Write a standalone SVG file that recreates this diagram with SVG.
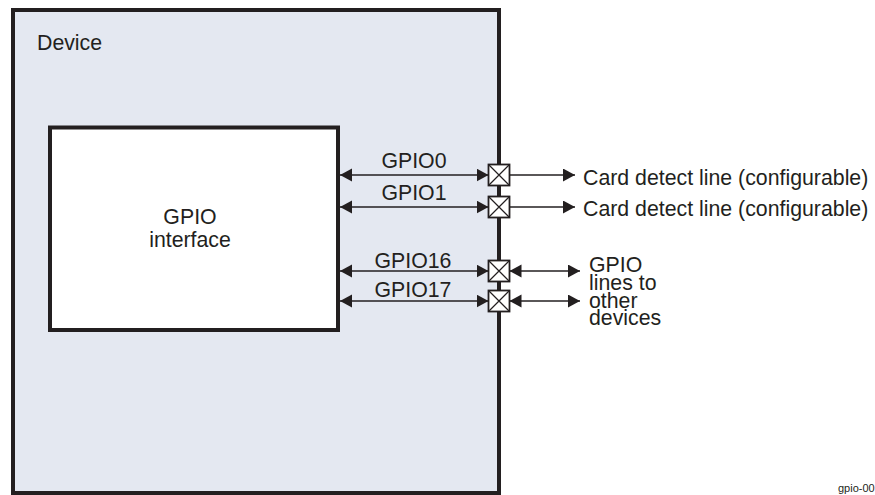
<svg xmlns="http://www.w3.org/2000/svg" width="875" height="495" viewBox="0 0 875 495">
<defs>
<style>
text{font-family:"Liberation Sans",Arial,sans-serif;fill:#231f20;font-size:21.3px}
.c{text-anchor:middle}
.conn line{stroke:#231f20;stroke-width:1.5;fill:none}
.pad rect{fill:#fff;stroke:#231f20;stroke-width:1.8}
.pad path{stroke:#231f20;stroke-width:1.2;fill:none}
</style>
<marker id="ah" markerUnits="userSpaceOnUse" markerWidth="13" markerHeight="14" refX="12" refY="6.5" orient="auto-start-reverse" viewBox="0 0 13 14">
<path d="M0,0 L12,6.5 L0,13 Z" fill="#231f20"/>
</marker>
</defs>
<rect width="875" height="495" fill="#fff"/>
<g id="device">
<rect x="13" y="10" width="486" height="483" fill="#e4e8f1" stroke="#231f20" stroke-width="4"/>
<text x="37" y="50">Device</text>
</g>
<g id="gpio-interface">
<rect x="50" y="127.5" width="288" height="202.5" fill="#fff" stroke="#231f20" stroke-width="4"/>
<text class="c" x="190" y="224">GPIO</text>
<text class="c" x="190" y="247">interface</text>
</g>
<g id="connectors" class="conn">
<line x1="340" y1="175" x2="488.5" y2="175" marker-start="url(#ah)" marker-end="url(#ah)"/>
<line x1="340" y1="207" x2="488.5" y2="207" marker-start="url(#ah)" marker-end="url(#ah)"/>
<line x1="340" y1="271" x2="488.5" y2="271" marker-start="url(#ah)" marker-end="url(#ah)"/>
<line x1="340" y1="301" x2="488.5" y2="301" marker-start="url(#ah)" marker-end="url(#ah)"/>
<line x1="509.5" y1="175" x2="575" y2="175" marker-end="url(#ah)"/>
<line x1="509.5" y1="207" x2="575" y2="207" marker-end="url(#ah)"/>
<line x1="509.5" y1="271" x2="580" y2="271" marker-start="url(#ah)" marker-end="url(#ah)"/>
<line x1="509.5" y1="301" x2="580" y2="301" marker-start="url(#ah)" marker-end="url(#ah)"/>
</g>
<g id="labels">
<text class="c" x="414" y="168">GPIO0</text>
<text class="c" x="414" y="200">GPIO1</text>
<text class="c" x="413" y="268">GPIO16</text>
<text class="c" x="413" y="297">GPIO17</text>
</g>
<g id="pad-gpio0" class="pad"><rect x="488.5" y="164.5" width="21" height="21"/><path d="M488.5,164.5 L509.5,185.5 M509.5,164.5 L488.5,185.5"/></g>
<g id="pad-gpio1" class="pad"><rect x="488.5" y="196.5" width="21" height="21"/><path d="M488.5,196.5 L509.5,217.5 M509.5,196.5 L488.5,217.5"/></g>
<g id="pad-gpio16" class="pad"><rect x="488.5" y="260.5" width="21" height="21"/><path d="M488.5,260.5 L509.5,281.5 M509.5,260.5 L488.5,281.5"/></g>
<g id="pad-gpio17" class="pad"><rect x="488.5" y="290.5" width="21" height="21"/><path d="M488.5,290.5 L509.5,311.5 M509.5,290.5 L488.5,311.5"/></g>
<g id="card-detect-0"><text x="583" y="185">Card detect line (configurable)</text></g>
<g id="card-detect-1"><text x="583" y="216">Card detect line (configurable)</text></g>
<g id="gpio-lines">
<text x="589" y="272">GPIO</text>
<text x="589" y="290">lines to</text>
<text x="589" y="307.5">other</text>
<text x="589" y="325">devices</text>
</g>
<text x="838" y="492" style="font-size:11px">gpio-00</text>
</svg>
